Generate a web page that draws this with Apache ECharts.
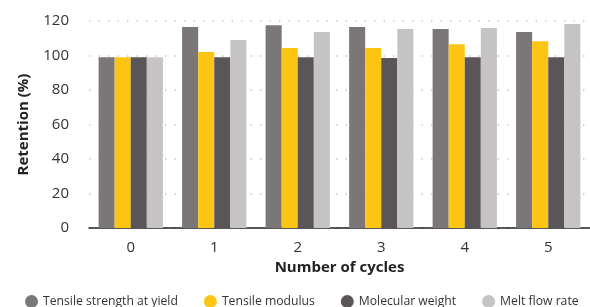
<!DOCTYPE html>
<html><head><meta charset="utf-8">
<script src="https://cdn.jsdelivr.net/npm/echarts@6/dist/echarts.min.js"></script>
<style>html,body{margin:0;padding:0;background:#fff}#c{width:590px;height:307px}</style>
</head><body><div id="c"></div>
<script>
const categories = ['0','1','2','3','4','5'];
const seriesNames = ['Tensile strength at yield','Tensile modulus','Molecular weight','Melt flow rate'];
const tensileStrength = [99, 116.5, 117.5, 116.5, 115.3, 113.6];
const tensileModulus = [99, 102, 104.3, 104.3, 106.5, 108.3];
const molecularWeight = [99, 99, 99, 98.5, 99, 99];
const meltFlowRate = [99, 109, 113.6, 115.3, 116, 118.3];
const colors = ['#7b7778','#fdc513','#5a5558','#c5c4c2'];
const font = '"Open Sans", "Noto Sans", sans-serif';
const values = [tensileStrength, tensileModulus, molecularWeight, meltFlowRate];
const chart = echarts.init(document.getElementById('c'));
chart.setOption({
  animation:false,
  color: colors,
  textStyle:{fontFamily:font},
  grid:{left:89, right:0, top:21, bottom:79},
  legend:{
    top:290, left:20, width:580, itemGap:26, icon:'circle', itemWidth:13, itemHeight:13,
    textStyle:{fontSize:12.2, color:'#333', fontFamily:font}
  },
  xAxis:{
    type:'category', data:categories,
    name:'Number of cycles', nameLocation:'middle', nameGap:28,
    nameTextStyle:{fontSize:15, fontWeight:'bold', color:'#222', fontFamily:font},
    axisLine:{lineStyle:{color:'#222', width:1.5}},
    axisTick:{show:false},
    axisLabel:{fontSize:15, color:'#333', margin:12}
  },
  yAxis:{
    type:'value', min:0, max:120, interval:20,
    name:'Retention (%)', nameLocation:'middle', nameGap:58,
    nameTextStyle:{fontSize:15, fontWeight:'bold', color:'#222', fontFamily:font},
    axisLine:{show:false}, axisTick:{show:false},
    axisLabel:{fontSize:15, color:'#333', margin:20},
    splitLine:{lineStyle:{color:'#c8c8c8', type:[1.5,8], width:1.5}}
  },
  series: seriesNames.map((n,i)=>({
    name:n, type:'bar', data:values[i], barGap:'0%', barCategoryGap:'23%',
    itemStyle:{color:colors[i]}
  }))
});
</script></body></html>
